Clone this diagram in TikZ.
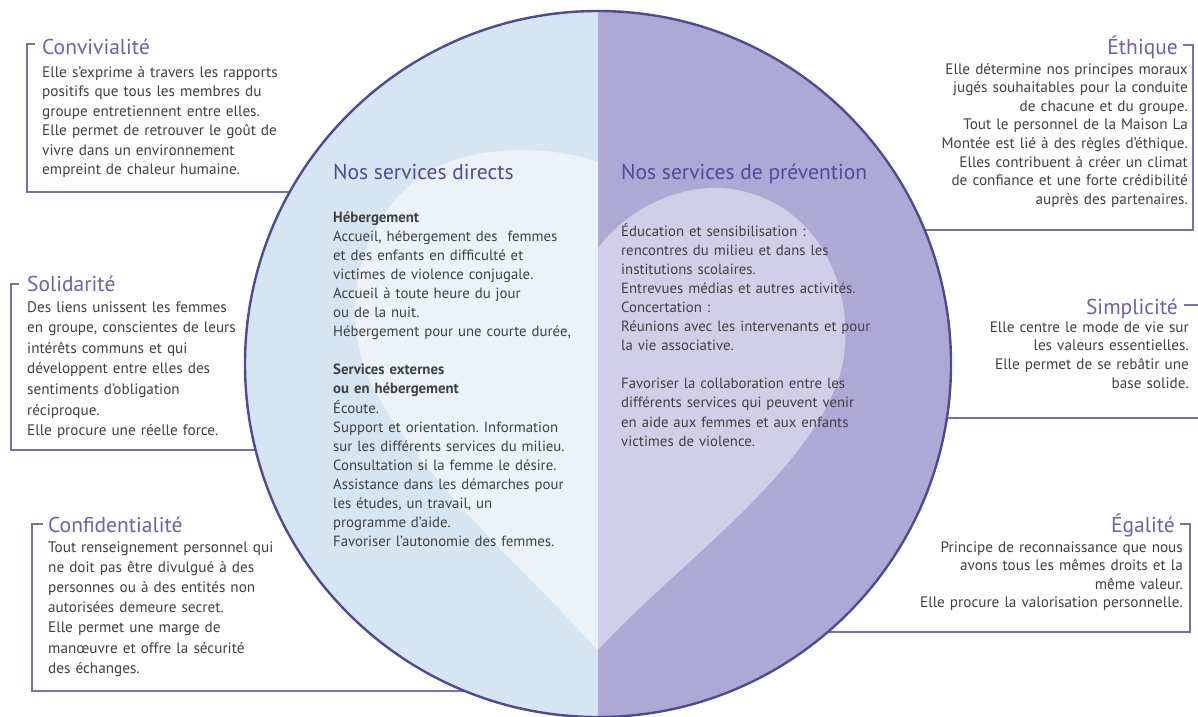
\documentclass[tikz,border=0pt]{standalone}
\usepackage{fontspec}
\setmainfont{PT Sans}
\frenchspacing
\definecolor{halfblue}{HTML}{D5E5F1}
\definecolor{heartblue}{HTML}{EBF3F9}
\definecolor{halfpurple}{HTML}{ADA9D4}
\definecolor{heartpurple}{HTML}{D1CEE8}
\definecolor{rimpurple}{HTML}{4E4A94}
\definecolor{linepurple}{HTML}{7570B3}
\definecolor{titlepurple}{HTML}{6A62AF}
\definecolor{headpurple}{HTML}{4F4A9A}
\definecolor{bodygray}{HTML}{404040}
\tikzset{
  boxline/.style={draw=linepurple, line width=2.2pt, line join=miter},
  ttl/.style={font=\fontsize{21.5}{25}\selectfont, text=titlepurple, inner sep=0pt},
  head/.style={font=\fontsize{21.5}{25}\selectfont, text=headpurple, inner sep=0pt, anchor=base west},
  body/.style={font=\fontsize{15.2}{#1}\selectfont, text=bodygray, inner sep=0pt, text width=320pt},
  bodyL/.style={body=#1, align=left, anchor=base west},
  bodyR/.style={body=#1, align=right, anchor=base east},
  inner/.style={font=\fontsize{14.8}{#1}\selectfont, text=bodygray, inner sep=0pt, text width=320pt, align=left, anchor=base west},
}
\begin{document}
\begin{tikzpicture}[x=1pt,y=-1pt]
\useasboundingbox (0,0) rectangle (1198,716);
\clip (0,0) rectangle (1198,716);
\fill[white] (0,0) rectangle (1198,716);

% centre of the disc
\coordinate (c) at (598,364);

% bracket lines of the six value boxes (run under the disc)
\draw[boxline] (35,44) -- (27,44) -- (27,192) -- (c |- 0,192);
\draw[boxline] (19,284) -- (11,284) -- (11,450) -- (c |- 0,450);
\draw[boxline] (43,524) -- (32,524) -- (32,691) -- (c |- 0,691);
\draw[boxline] (1183,45) -- (1193,45) -- (1193,230) -- (c |- 0,230);
\draw[boxline] (1184,305) -- (1201,305) -- (1201,418) -- (c |- 0,418);
\draw[boxline] (1180,524) -- (1190,524) -- (1190,632) -- (c |- 0,632);

% the disc: two halves with a heart
\begin{scope}
  \clip (c) circle[radius=353];
  \fill[halfblue] (245,0) rectangle (598,716);
  \fill[halfpurple] (598,0) rectangle (955,716);
  \fill[heartblue] (598,162) .. controls (555,146) and (470,142) .. (422,176)
     .. controls (362,218) and (340,300) .. (366,372)
     .. controls (410,470) and (520,565) .. (598,650) -- cycle;
  \fill[heartpurple] (598,248) .. controls (630,206) and (680,186) .. (722,188)
     .. controls (800,194) and (850,262) .. (845,345)
     .. controls (840,452) and (680,560) .. (598,650) -- cycle;
\end{scope}
\draw[rimpurple, line width=2.4pt] (c) circle[radius=353];

% left boxes
\node[ttl, anchor=base west] (conv) at (42,54) {Convivialité};
\node[bodyL=19.5] (convt) at (42,77) {Elle s’exprime à travers les rapports\\
positifs que tous les membres du\\
groupe entretiennent entre elles.\\
Elle permet de retrouver le goût de\\
vivre dans un environnement\\
empreint de chaleur humaine.};

\node[ttl, anchor=base west] (soli) at (27,291) {Solidarité};
\node[bodyL=20.6] (solit) at (27,312) {Des liens unissent les femmes\\
en groupe, conscientes de leurs\\
intérêts communs et qui\\
développent entre elles des\\
sentiments d’obligation\\
réciproque.\\
Elle procure une réelle force.};

\node[ttl, anchor=base west] (conf) at (48,532) {Confidentialité};
\node[bodyL=20.2] (conft) at (48,552) {Tout renseignement personnel qui\\
ne doit pas être divulgué à des\\
personnes ou à des entités non\\
autorisées demeure secret.\\
Elle permet une marge de\\
manœuvre et offre la sécurité\\
des échanges.};

% right boxes
\node[ttl, anchor=base east] (ethi) at (1178,54) {Éthique};
\node[bodyR=18.6] (ethit) at (1188,74) {Elle détermine nos principes moraux\\
jugés souhaitables pour la conduite\\
de chacune et du groupe.\\
Tout le personnel de la Maison La\\
Montée est lié à des règles d’éthique.\\
Elles contribuent à créer un climat\\
de confiance et une forte crédibilité\\
auprès des partenaires.};

\node[ttl, anchor=base east] (simp) at (1178,314) {Simplicité};
\node[bodyR=18.8] (simpt) at (1189,332) {Elle centre le mode de vie sur\\
les valeurs essentielles.\\
Elle permet de se rebâtir une\\
base solide.};

\node[ttl, anchor=base east] (egal) at (1175,532) {Égalité};
\node[bodyR=18.6] (egalt) at (1183,552) {Principe de reconnaissance que nous\\
avons tous les mêmes droits et la\\
même valeur.\\
Elle procure la valorisation personnelle.};

% services inside the disc
\node[head] (dir) at (333,179) {Nos services directs};
\node[inner=19.1] (dirt) at (333,222) {\textbf{Hébergement}\\
Accueil, hébergement des~ femmes\\
et des enfants en difficulté et\\
victimes de violence conjugale.\\
Accueil à toute heure du jour\\
ou de la nuit.\\
Hébergement pour une courte durée,\\[19.1pt]
\textbf{Services externes}\\
\textbf{ou en hébergement}\\
Écoute.\\
Support et orientation. Information\\
sur les différents services du milieu.\\
Consultation si la femme le désire.\\
Assistance dans les démarches pour\\
les études, un travail, un\\
programme d’aide.\\
Favoriser l’autonomie des femmes.};

\node[head] (prev) at (621,179) {Nos services de prévention};
\node[inner=19.1] (prevt) at (621,236) {Éducation et sensibilisation :\\
rencontres du milieu et dans les\\
institutions scolaires.\\
Entrevues médias et autres activités.\\
Concertation :\\
Réunions avec les intervenants et pour\\
la vie associative.\\[19.1pt]
Favoriser la collaboration entre les\\
différents services qui peuvent venir\\
en aide aux femmes et aux enfants\\
victimes de violence.};
\end{tikzpicture}
\end{document}
